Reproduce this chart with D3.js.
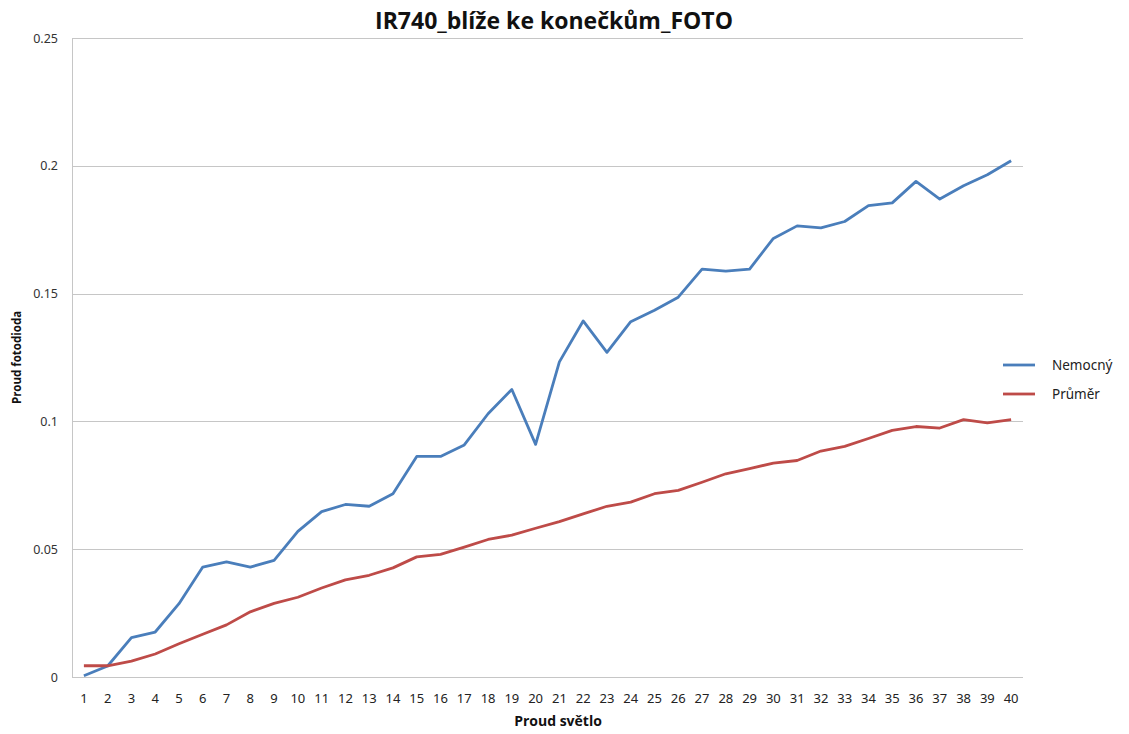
<!DOCTYPE html>
<html>
<head>
<meta charset="utf-8">
<script src="https://cdn.jsdelivr.net/npm/d3@7"></script>
<style>
  body { margin: 0; background: #fff; }
  svg { display: block; }
  .title { font-family: 'Open Sans', sans-serif; font-weight: 700; font-size: 23px; fill: #111; }
  .label { font-family: 'Open Sans', sans-serif; font-weight: 700; fill: #111; }
  .tick text { font-family: 'Noto Sans', sans-serif; font-size: 12.5px; fill: #333; }
  .legend text { font-family: 'Noto Sans', sans-serif; font-size: 13.5px; fill: #222; }
</style>
</head>
<body>
<svg width="1129" height="734"></svg>
<script>
// x categories (Proud světlo)
const steps = d3.range(1, 41).map(String);

// Nemocný
const nemocny = [
  0.0005, 0.0043, 0.0154, 0.0176, 0.0287, 0.043, 0.045, 0.043, 0.0456, 0.057,
  0.0647, 0.0675, 0.0668, 0.0717, 0.0863, 0.0863, 0.0908, 0.103, 0.1125, 0.091,
  0.1233, 0.1393, 0.127, 0.139, 0.1435, 0.1486, 0.1596, 0.1588, 0.1596, 0.1716,
  0.1765, 0.1757, 0.1782, 0.1844, 0.1855, 0.1939, 0.187, 0.1922, 0.1965, 0.202
];

// Průměr
const prumer = [
  0.0044, 0.0044, 0.0062, 0.009, 0.013, 0.0167, 0.0204, 0.0255, 0.0288, 0.0312,
  0.0348, 0.038, 0.0398, 0.0427, 0.047, 0.048, 0.0508, 0.0538, 0.0555, 0.0582,
  0.0608, 0.0638, 0.0668, 0.0684, 0.0717, 0.073, 0.0762, 0.0795, 0.0815, 0.0837,
  0.0847, 0.0884, 0.0902, 0.0933, 0.0965, 0.098, 0.0974, 0.1007, 0.0994, 0.1007
];

const yTicks = [0, 0.05, 0.1, 0.15, 0.2, 0.25];
const seriesNames = ['Nemocný', 'Průměr'];
const colors = ['#4a7ebb', '#be4b48'];

const svg = d3.select('svg');

const margin = { top: 38, right: 106, bottom: 57, left: 72 };
const width = 1129 - margin.left - margin.right;
const height = 734 - margin.top - margin.bottom;

const chart = svg.append('g')
  .attr('transform', `translate(${margin.left}, ${margin.top})`);

const xScale = d3.scaleBand()
  .range([0, width])
  .domain(steps)
  .padding(0);

const yScale = d3.scaleLinear()
  .range([height, 0])
  .domain([0, 0.25]);

// grid lines
chart.append('g')
  .selectAll('line')
  .data(yTicks)
  .enter()
  .append('line')
  .attr('x1', 0)
  .attr('x2', width)
  .attr('y1', d => Math.round(yScale(d)) + 0.5)
  .attr('y2', d => Math.round(yScale(d)) + 0.5)
  .attr('stroke', '#c6c6c6')
  .attr('stroke-width', 1);

// left axis line
chart.append('line')
  .attr('x1', 0.5).attr('x2', 0.5)
  .attr('y1', 0).attr('y2', height)
  .attr('stroke', '#c6c6c6');

// y axis labels
const yAxis = chart.append('g')
  .call(d3.axisLeft(yScale).tickValues(yTicks).tickFormat(d => String(d)).tickSize(0).tickPadding(14));
yAxis.select('.domain').remove();

// x axis labels
const xAxis = chart.append('g')
  .attr('transform', `translate(0, ${height})`)
  .call(d3.axisBottom(xScale).tickSize(0).tickPadding(17));
xAxis.select('.domain').remove();
xAxis.selectAll('text').style('font-size', '13px').style('fill', '#222');

// lines
const line = d3.line()
  .x((d, i) => xScale(steps[i]) + xScale.bandwidth() / 2)
  .y(d => yScale(d));

[nemocny, prumer].forEach((s, k) => {
  chart.append('path')
    .datum(s)
    .attr('fill', 'none')
    .attr('stroke', colors[k])
    .attr('stroke-width', 2.8)
    .attr('stroke-linejoin', 'round')
    .attr('d', line);
});

// legend
const legend = svg.append('g').attr('class', 'legend');
seriesNames.forEach((name, k) => {
  const y = 365 + k * 29;
  legend.append('line')
    .attr('x1', 1003).attr('x2', 1035)
    .attr('y1', y).attr('y2', y)
    .attr('stroke', colors[k])
    .attr('stroke-width', 2.8);
  legend.append('text')
    .attr('x', 1052)
    .attr('y', y + 4.5)
    .text(name);
});

// title
svg.append('text')
  .attr('class', 'title')
  .attr('x', 554)
  .attr('y', 29)
  .attr('text-anchor', 'middle')
  .text('IR740_blíže ke konečkům_FOTO');

// y title
svg.append('text')
  .attr('class', 'label')
  .attr('font-size', '11.5px')
  .attr('transform', `translate(21, ${margin.top + height / 2}) rotate(-90)`)
  .attr('text-anchor', 'middle')
  .text('Proud fotodioda');

// x title
svg.append('text')
  .attr('class', 'label')
  .attr('font-size', '14px')
  .attr('x', 558)
  .attr('y', 726)
  .attr('text-anchor', 'middle')
  .text('Proud světlo');
</script>
</body>
</html>
